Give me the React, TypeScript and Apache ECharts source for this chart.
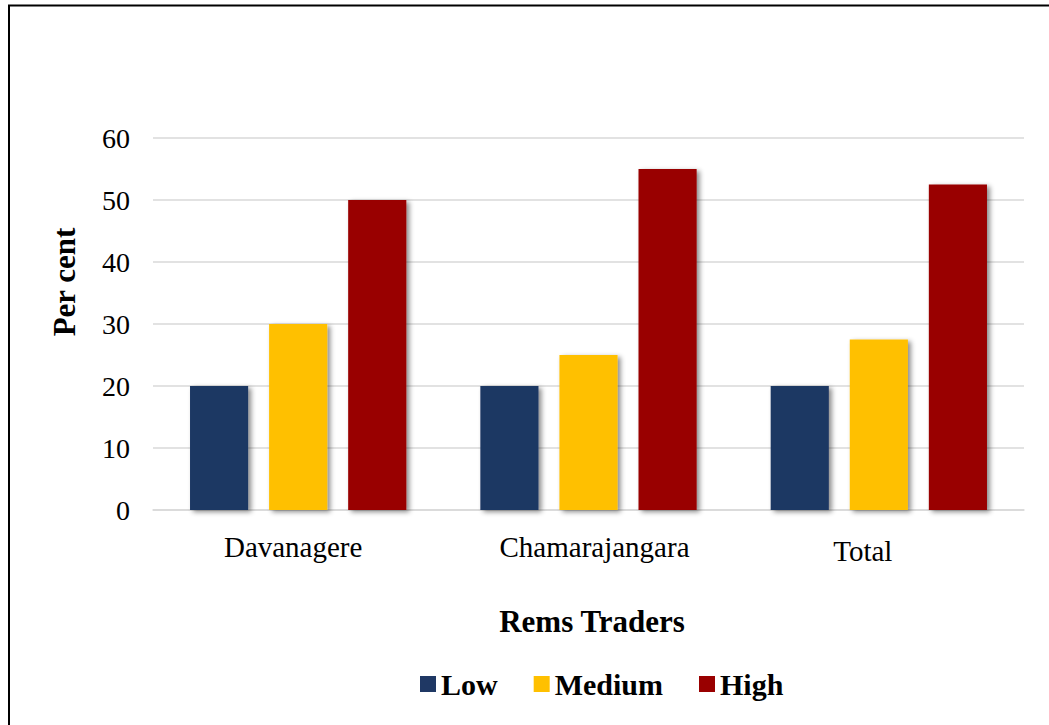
import React, { useEffect, useRef } from "react";
import * as echarts from "echarts";

const categories = ["Davanagere", "Chamarajangara", "Total"];
const lowValues = [20, 20, 20];
const mediumValues = [30, 25, 27.5];
const highValues = [50, 55, 52.5];
const seriesNames = ["Low", "Medium", "High"];
const seriesColors = ["#1F3864", "#FFC000", "#990000"];
const yTicks = { min: 0, max: 60, interval: 10 };
const yTitle = "Per cent";
const xTitle = "Rems Traders";

// small label nudges mirroring the reference's category-label placement
const labelPaddings = [
  [0, 10, 0, 0],
  [0, 0, 0, 12],
  [4, 32, 0, 0],
];

const FONT = "'Liberation Serif', 'Times New Roman', serif";

export default function App() {
  const ref = useRef<HTMLDivElement>(null);
  useEffect(() => {
    if (!ref.current) return;
    const chart = echarts.init(ref.current, undefined, { renderer: "svg" });
    const data = [lowValues, mediumValues, highValues];
    chart.setOption({
      animation: false,
      backgroundColor: "#ffffff",
      grid: { left: 153, right: 25, top: 138, bottom: 215 },
      legend: {
        data: seriesNames,
        left: 415,
        top: 664,
        itemWidth: 16,
        itemHeight: 16,
        itemGap: 36,
        icon: "rect",
        textStyle: { fontFamily: FONT, fontWeight: "bold", fontSize: 30, color: "#000" },
      },
      xAxis: {
        type: "category",
        data: categories.map((c, i) => ({ value: c, textStyle: { padding: labelPaddings[i] } })),
        axisLine: { show: true, lineStyle: { color: "#d9d9d9", width: 1.5 } },
        axisTick: { show: false },
        axisLabel: { fontFamily: FONT, fontSize: 29, color: "#000", margin: 22 },
      },
      yAxis: {
        type: "value",
        min: yTicks.min,
        max: yTicks.max,
        interval: yTicks.interval,
        axisLine: { show: false },
        axisTick: { show: false },
        splitLine: { lineStyle: { color: "#d9d9d9", width: 1.5 } },
        axisLabel: { fontFamily: FONT, fontSize: 28, color: "#000", margin: 23 },
      },
      graphic: [
        {
          type: "rect",
          shape: { x: 9, y: 5.5, width: 1200, height: 900 },
          style: { fill: "none", stroke: "#000", lineWidth: 2 },
          silent: true,
        },
        {
          type: "text",
          x: 64,
          y: 282,
          rotation: Math.PI / 2,
          style: {
            text: yTitle,
            fontFamily: FONT,
            fontWeight: "bold",
            fontSize: 31,
            fill: "#000",
            textAlign: "center",
            textVerticalAlign: "middle",
          },
        },
        {
          type: "text",
          x: 592,
          y: 621,
          style: {
            text: xTitle,
            fontFamily: FONT,
            fontWeight: "bold",
            fontSize: 31,
            fill: "#000",
            textAlign: "center",
            textVerticalAlign: "middle",
          },
        },
      ],
      series: seriesNames.map((name, i) => ({
        name,
        type: "bar",
        data: data[i],
        barGap: "36%",
        barCategoryGap: "25.5%",
        itemStyle: {
          color: seriesColors[i],
          shadowColor: "rgba(0,0,0,0.45)",
          shadowBlur: 5,
          shadowOffsetX: 3,
          shadowOffsetY: 2,
        },
      })),
    });
    return () => chart.dispose();
  }, []);
  return (
    <div style={{ position: "fixed", left: 0, top: 0, width: 1049, height: 725, overflow: "hidden", background: "#fff" }}>
      <div ref={ref} style={{ width: 1049, height: 725 }} />
    </div>
  );
}
